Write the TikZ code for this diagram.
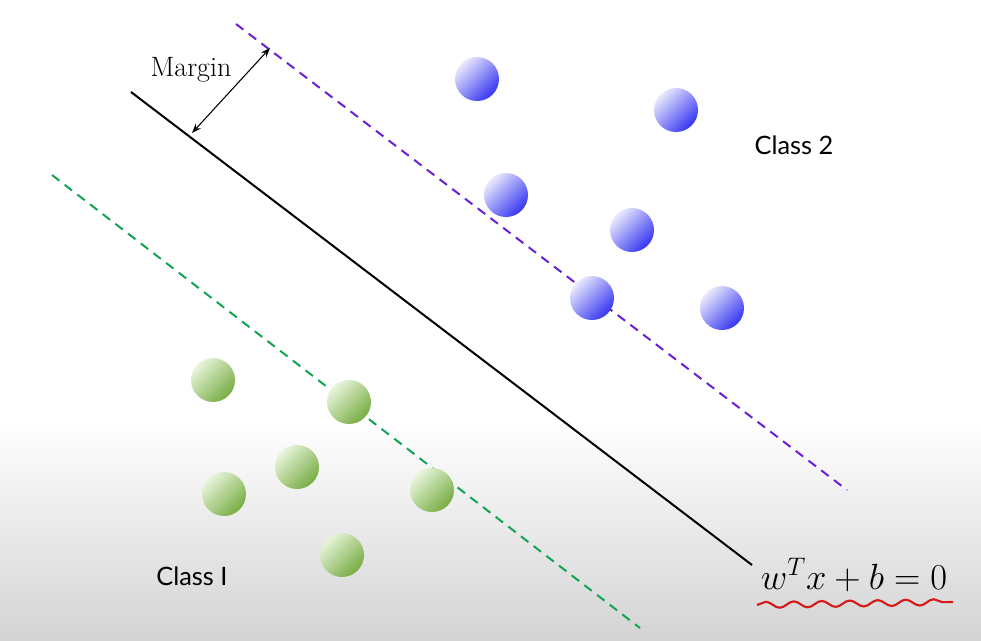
\documentclass[tikz,border=0pt]{standalone}
\usepackage{fontspec}
\usepackage{amsmath}
\newfontfamily\classfont{Lato}
\usetikzlibrary{positioning, arrows.meta, decorations.pathmorphing}
\definecolor{ballblue}{HTML}{3535F2}
\definecolor{ballgreen}{HTML}{8CCB4E}
\definecolor{marginpurple}{HTML}{6A1FD8}
\definecolor{margingreen}{HTML}{12A354}
\definecolor{wavyred}{HTML}{D61A1A}
\begin{document}
\begin{tikzpicture}[x=0.75pt, y=-0.75pt,
    ball/.style={circle, minimum size=33pt, inner sep=0pt},
    blueball/.style={ball, top color=white!90!ballblue, bottom color=ballblue, shading angle=45},
    greenball/.style={ball, top color=white!80!ballgreen, bottom color=ballgreen!85!black, shading angle=45},
    marginline/.style={line width=1.5pt, dash pattern=on 7pt off 5pt},
    label/.style={font=\classfont\fontsize{19}{22}\selectfont}]
    % background
    \useasboundingbox (0,0) rectangle (981,640);
    \fill[white] (0,0) rectangle (981,420);
    \shade[top color=white, bottom color=black!17] (0,420) rectangle (981,640);
    % hyperplane and margins
    \coordinate (h1) at (131,92);
    \coordinate (h2) at (752,565);
    \coordinate (p1) at (236,24);
    \coordinate (p2) at (847,490);
    \coordinate (g1) at (52,175);
    \coordinate (g2) at (640,628);
    \draw[line width=1.5pt] (h1) -- (h2);
    \draw[marginline, marginpurple] (p1) -- (p2);
    \draw[marginline, margingreen] (g1) -- (g2);
    % margin arrow
    \coordinate (m1) at (192,133);
    \coordinate (m2) at (270,48);
    \draw[{Stealth[length=7pt]}-{Stealth[length=7pt]}, line width=0.8pt] (m1) -- (m2);
    \node[font=\fontsize{21}{24}\selectfont] (margin) at (191,70) {Margin};
    % class 2
    \node[blueball] (b1) at (477,79) {};
    \node[blueball] (b2) at (676,110) {};
    \node[blueball] (b3) at (506,195) {};
    \node[blueball] (b4) at (632,230) {};
    \node[blueball] (b5) at (592,298) {};
    \node[blueball] (b6) at (722,308) {};
    % class 1
    \node[greenball] (c1) at (213,380) {};
    \node[greenball] (c2) at (349,402) {};
    \node[greenball] (c3) at (297,467) {};
    \node[greenball] (c4) at (224,494) {};
    \node[greenball] (c5) at (432,490) {};
    \node[greenball] (c6) at (342,555) {};
    \node[label] (class2) at (794,145) {Class 2};
    \node[label] (class1) at (192,576) {Class I};
    % equation
    \node[font=\fontsize{24}{28}\selectfont] (eq) at (854,575) {\scalebox{1.1}{$w^T x + b = 0$}};
    \coordinate (u1) at (757,605);
    \coordinate (u2) at (953,602);
    \draw[wavyred, line width=1.6pt, decorate,
          decoration={snake, amplitude=2.3pt, segment length=21pt}] (u1) -- (u2);
\end{tikzpicture}
\end{document}
